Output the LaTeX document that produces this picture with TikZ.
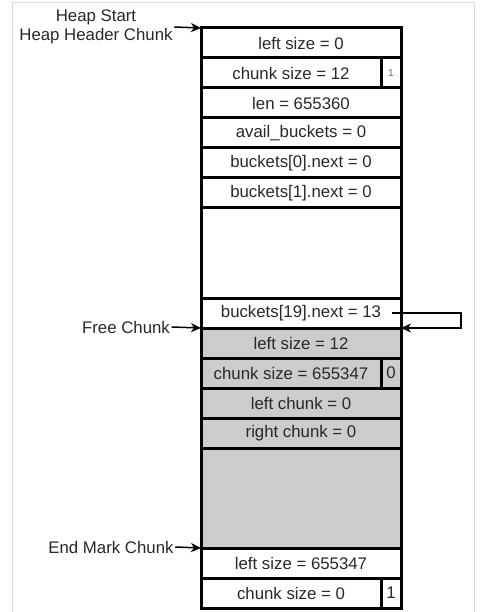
\documentclass[tikz,border=0pt]{standalone}
\usepackage{fontspec}
\setmainfont{Liberation Sans}
\usetikzlibrary{arrows.meta, positioning}
\definecolor{chunkgray}{RGB}{204,204,204}
\definecolor{framegray}{RGB}{218,218,218}
\definecolor{txtgray}{RGB}{40,40,40}
\tikzset{
  cell/.style={draw, line width=3pt, minimum width=200pt, minimum height=30pt,
    inner sep=0pt, outer sep=0pt, text=txtgray, font=\fontsize{16.8}{19}\selectfont},
  half/.style={cell, minimum width=180pt},
  flag/.style={cell, minimum width=20pt},
  used/.style={fill=chunkgray},
  tag/.style={text=txtgray, align=center, inner sep=1.5pt, font=\fontsize{16.8}{19.5}\selectfont},
  conn/.style={line width=1.5pt, -{Stealth[length=10pt, width=9pt, inset=3pt]}}
}

\begin{document}
\begin{tikzpicture}[x=1pt, y=1pt]
\useasboundingbox (0,0) rectangle (501,-612);
\draw[framegray, line width=1pt] (12.5,-612) -- (12.5,-3) -- (474,-3) -- (474,-612); % cadre

% Heap Header Chunk
\node[cell, anchor=north west] (hls) at (201,-28) {left size = 0};
\node[half, below=0pt of hls.south west, anchor=north west] (hcs) {chunk size = 12};
\node[flag, right=0pt of hcs, font=\fontsize{10}{11}\selectfont, text=black!60] (hflag) {1};
\node[cell, below=0pt of hcs.south west, anchor=north west] (hlen) {len = 655360};
\node[cell, below=0pt of hlen] (havail) {avail\_buckets = 0};
\node[cell, below=0pt of havail] (hb0) {buckets[0].next = 0};
\node[cell, below=0pt of hb0] (hb1) {buckets[1].next = 0};
\node[cell, below=0pt of hb1, minimum height=90pt] (hgap) {};
\node[cell, below=0pt of hgap] (hb19) {buckets[19].next = 13};

% Free Chunk
\node[cell, used, below=0pt of hb19] (fls) {left size = 12};
\node[half, used, below=0pt of fls.south west, anchor=north west] (fcs) {chunk size = 655347};
\node[flag, used, right=0pt of fcs] (fflag) {0};
\node[cell, used, below=0pt of fcs.south west, anchor=north west] (flc) {left chunk = 0};
\node[cell, used, below=0pt of flc] (frc) {right chunk = 0};
\node[cell, used, below=0pt of frc, minimum height=100pt] (fgap) {};

% End Mark Chunk
\node[cell, below=0pt of fgap] (els) {left size = 655347};
\node[half, below=0pt of els.south west, anchor=north west] (ecs) {chunk size = 0};
\node[flag, right=0pt of ecs] (eflag) {1};

% Etiquettes
\node[tag] (tstart) at (96,-27) {Heap Start\\Heap Header Chunk};
\node[tag] (tfree) at (126,-327) {Free Chunk};
\node[tag] (tend) at (111,-547) {End Mark Chunk};

% Fleches
\draw[conn] (tstart.east) -- (hls.north west);
\draw[conn] (tfree.east) -- (fls.north west);
\draw[conn] (tend.east) -- (els.north west);
\draw[conn] ([xshift=-9pt]hb19.east) -- ++(69pt,0) |- (fls.north east);
\end{tikzpicture}
\end{document}
